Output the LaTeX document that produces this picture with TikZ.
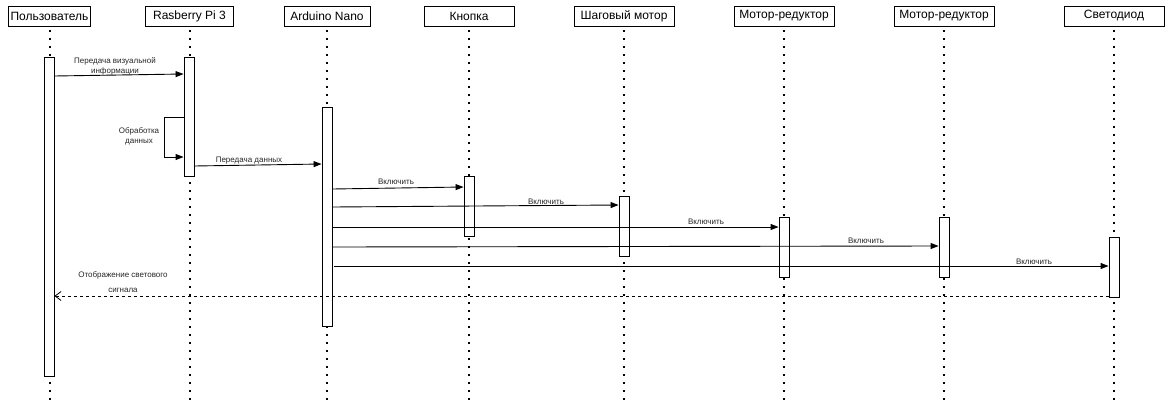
\documentclass[tikz,border=0pt]{standalone}
\usepackage{fontspec}
\setmainfont{Liberation Sans}
\usetikzlibrary{arrows.meta}
\begin{document}
\begin{tikzpicture}[x=1pt,y=-1pt,
  head/.style={draw=black, line width=0.9pt, fill=white, minimum height=20pt, inner sep=0pt, font=\fontsize{12}{14}\selectfont},
  act/.style={draw=black, line width=0.9pt, fill=white, minimum width=10pt, inner sep=0pt},
  life/.style={line width=2pt, dash pattern=on 2pt off 6pt},
  msg/.style={draw=black, line width=0.9pt, -{Triangle[length=8pt,width=6pt]}},
  ret/.style={draw=black, line width=0.9pt, dash pattern=on 3pt off 3pt, -{Straight Barb[length=6pt,width=9pt,line width=0.8pt]}},
  lbl/.style={font=\fontsize{8}{10}\selectfont, text=black!85, inner sep=0pt, align=center}
]
\useasboundingbox (0,0) rectangle (1172,402);
% headers
\node[head, minimum width=82pt] (user) at (49.5,16) {Пользователь};
\node[head, minimum width=88pt] (rpi) at (189.5,16) {Rasberry Pi 3};
\node[head, minimum width=86pt] (ard) at (327,16) {Arduino Nano};
\node[head, minimum width=90pt] (btn) at (469,16) {Кнопка};
\node[head, minimum width=100pt] (step) at (624,16) {Шаговый мотор};
\node[head, minimum width=100pt] (mr1) at (784,16) {Мотор-редуктор};
\node[head, minimum width=100pt] (mr2) at (944,16) {Мотор-редуктор};
\node[head, minimum width=100pt] (led) at (1114,16) {Светодиод};
% lifelines
\foreach \n in {user,rpi,ard,btn,step,mr1,mr2,led}{
  \draw[life] ([yshift=-4pt]\n.south) -- (\n.south |- 0,402);
}
% activations
\node[act, minimum height=319pt] (uact) at (49,216.5) {};
\node[act, minimum height=119pt] (ract) at (189,116.5) {};
\node[act, minimum height=219pt] (aact) at (327,216.5) {};
\node[act, minimum height=60pt] (bact) at (469,206) {};
\node[act, minimum height=60pt] (sact) at (624,226) {};
\node[act, minimum height=60pt] (m1act) at (784,247) {};
\node[act, minimum height=60pt] (m2act) at (944,247) {};
\node[act, minimum height=60pt] (lact) at (1114,267) {};
% messages
\draw[msg] (uact.east |- 0,76) -- (ract.west |- 0,74);
\node[lbl] (l1) at (115,66) {Передача визуальной\\информации};
\coordinate (sl1) at (164,117);
\coordinate (sl2) at (164,157);
\draw[msg] (ract.west |- 0,117) -- (sl1) -- (sl2) -- (ract.west |- 0,157);
\node[lbl] (l2) at (139,136) {Обработка\\данных};
\draw[msg] (ract.east |- 0,166) -- (aact.west |- 0,164);
\node[lbl] (l3) at (249,161) {Передача данных};
\draw[msg] (aact.east |- 0,189) -- (bact.west |- 0,187);
\node[lbl] (l4) at (396,182) {Включить};
\draw[msg] (aact.east |- 0,207) -- (sact.west |- 0,205);
\node[lbl] (l5) at (546,202) {Включить};
\draw[msg] (aact.east |- 0,227) -- (m1act.west |- 0,227);
\node[lbl] (l6) at (706,222) {Включить};
\draw[msg] (aact.east |- 0,247) -- (m2act.west |- 0,246);
\node[lbl] (l7) at (866,241) {Включить};
\draw[msg] ([xshift=2pt]aact.east |- 0,266) -- (lact.west |- 0,266);
\node[lbl] (l8) at (1034,262) {Включить};
\draw[ret] (lact.west |- 0,296) -- (uact.east |- 0,296);
\node[lbl, text depth=0pt] (l9a) at (123,275) {Отображение светового};
\node[lbl] (l9b) at (123,290) {сигнала};
\end{tikzpicture}
\end{document}
